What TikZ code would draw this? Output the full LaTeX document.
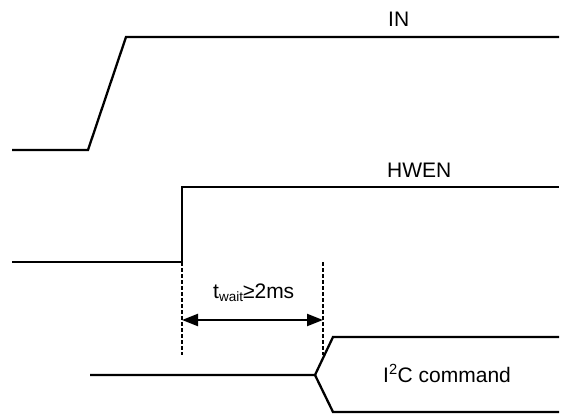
\documentclass[tikz,border=0pt]{standalone}
\usepackage{fontspec}
\setmainfont{Liberation Sans}
\usetikzlibrary{arrows.meta}
\begin{document}
\begin{tikzpicture}[x=1pt,y=-1pt,
  sig/.style={line width=2.3pt,line join=miter},
  guide/.style={line width=2pt,dash pattern=on 4pt off 2pt},
  lbl/.style={anchor=base west,inner sep=0pt,font=\fontsize{21}{24}\selectfont},
  dim/.style={line width=2.3pt,{Triangle[length=16pt,width=12pt]}-{Triangle[length=16pt,width=12pt]}}]
\useasboundingbox (0,0) rectangle (572,416);
% IN
\coordinate (a1) at (12,150);
\coordinate (a2) at (88,150);
\coordinate (a3) at (126,37);
\coordinate (a4) at (559,37);
\draw[sig] (a1) -- (a2) -- (a3) -- (a4);
\node[lbl] (inl) at (388,26) {IN};
% HWEN
\coordinate (b1) at (12,262);
\coordinate (b2) at (182,262);
\coordinate (b3) at (182,187);
\coordinate (b4) at (559,187);
\draw[sig] (b1) -- (b2) -- (b3) -- (b4);
\node[lbl] (hwl) at (387,177) {HWEN};
% guides
\coordinate (g1t) at (182,262);
\coordinate (g1b) at (182,355);
\coordinate (g2t) at (323,262);
\coordinate (g2b) at (323,355);
\draw[guide] (g1t) -- (g1b);
\draw[guide] (g2t) -- (g2b);
\coordinate (d1) at (182,320);
\coordinate (d2) at (323,320);
\draw[dim] (d1) -- (d2);
\node[lbl] (tw) at (213,298) {t{\fontsize{13.5}{15}\selectfont\raisebox{-3.5pt}{wait}}≥2ms};
% I2C
\coordinate (c1) at (90,375);
\coordinate (c2) at (315,375);
\coordinate (c3) at (333,337);
\coordinate (c4) at (559,337);
\coordinate (c5) at (333,412);
\coordinate (c6) at (559,412);
\draw[sig] (c1) -- (c2) -- (c3) -- (c4);
\draw[sig] (c2) -- (c5) -- (c6);
\node[lbl] (i2c) at (383,382) {I\textsuperscript{2}C command};
\end{tikzpicture}
\end{document}
